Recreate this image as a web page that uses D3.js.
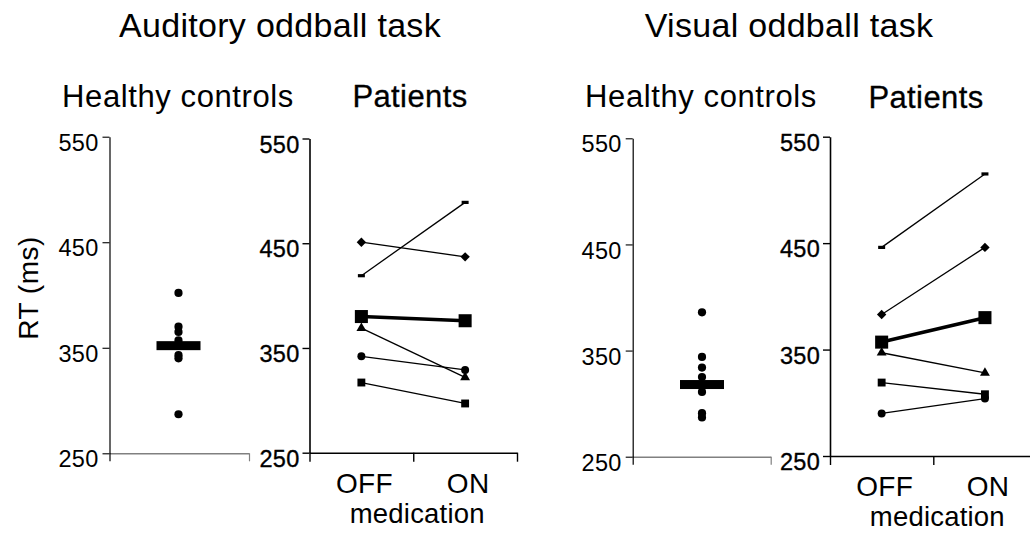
<!DOCTYPE html>
<html>
<head>
<meta charset="utf-8">
<script src="https://cdn.jsdelivr.net/npm/d3@7"></script>
<style>
  html, body { margin: 0; padding: 0; background: #fff; }
  svg { display: block; font-family: "Liberation Sans", Arial, sans-serif; }
</style>
</head>
<body>
<svg id="chart" width="1030" height="534"></svg>
<script>
// ---------------- data ----------------
const taskTitles = ["Auditory oddball task", "Visual oddball task"];
const groupTitles = ["Healthy controls", "Patients"];
const yTicks = [250, 350, 450, 550];
const conditions = ["OFF", "ON"];
const xAxisTitle = "medication";
const yAxisTitle = "RT (ms)";

const auditoryControls = [402, 370, 365, 357, 343, 340, 287];
const auditoryControlsMean = 352;
const visualControls = [386, 344, 334, 325, 311, 291, 287];
const visualControlsMean = 318;

const patientShapes = ["dash", "diamond", "triangle", "circle", "square"];
const auditoryPatients = [[419, 489], [451, 437], [369, 322], [342, 329], [317, 297]];
const auditoryPatientsMean = [380, 376];
const visualPatients = [[446, 515], [383, 446], [347, 328], [290, 304], [319, 308]];
const visualPatientsMean = [357, 380];

// ---------------- layout ----------------
const svg = d3.select("#chart");
const FONT_TICK = 23.5;

const panels = [
  { task: 0, ctrl: auditoryControls, ctrlMean: auditoryControlsMean,
    pats: auditoryPatients, patMean: auditoryPatientsMean,
    titleX: 280,
    hc: { axisX: 109.5, xEnd: 249, y0: 453.3, y1: 136.7, dotX: 178.5, labelX: 178 },
    pt: { axisX: 309.5, xEnd: 517, y0: 452.7, y1: 138.5, labelX: 410, labelY: 107, catY: 493, medY: 523 } },
  { task: 1, ctrl: visualControls, ctrlMean: visualControlsMean,
    pats: visualPatients, patMean: visualPatientsMean,
    titleX: 789,
    hc: { axisX: 632.7, xEnd: 770.7, y0: 456.7, y1: 138.3, dotX: 702, labelX: 701 },
    pt: { axisX: 830, xEnd: 1036.6, y0: 456, y1: 136.7, labelX: 926, labelY: 108, catY: 496, medY: 526 } }
];

function styleYAxis(g, bold) {
  g.select(".domain").attr("stroke", "#000").attr("stroke-width", bold ? 1.6 : 1.2);
  g.selectAll(".tick line").attr("stroke", "#000").attr("stroke-width", bold ? 1.4 : 1.1);
  g.selectAll(".tick text")
    .attr("font-size", FONT_TICK)
    .attr("font-family", "Liberation Sans, Arial, sans-serif")
    .attr("fill", "#000")
    .attr("letter-spacing", 0.3)
    .attr("dy", "0.58em")
    .attr("stroke", bold ? "#000" : "none")
    .attr("stroke-width", bold ? 0.35 : 0);
}

function symbolPath(shape) {
  switch (shape) {
    case "diamond": return d3.symbol().type(d3.symbolSquare).size(44)();
    case "triangle": return d3.symbol().type(d3.symbolTriangle).size(42)();
    case "circle": return d3.symbol().type(d3.symbolCircle).size(50)();
    case "square": return d3.symbol().type(d3.symbolSquare).size(62)();
    case "mean": return d3.symbol().type(d3.symbolSquare).size(170)();
    default: return "M-3.5,-1.6H3.5V1.6H-3.5Z";
  }
}

panels.forEach(p => {
  // Task title
  svg.append("text").attr("x", p.titleX).attr("y", 37)
    .attr("text-anchor", "middle").attr("font-size", 34).attr("letter-spacing", 0.3)
    .text(taskTitles[p.task]);

  // ---------- Healthy controls ----------
  const hc = p.hc;
  const yH = d3.scaleLinear().domain([250, 550]).range([hc.y0, hc.y1]);
  const xH = d3.scaleLinear().domain([0, 1]).range([hc.axisX, hc.xEnd]);

  svg.append("text").attr("x", hc.labelX).attr("y", 107)
    .attr("text-anchor", "middle").attr("font-size", 31).attr("letter-spacing", 0.6)
    .text(groupTitles[0]);

  const gxH = svg.append("g").attr("transform", `translate(0,${hc.y0})`)
    .call(d3.axisBottom(xH).tickValues([0, 1]).tickFormat("").tickSize(8).tickSizeOuter(0));
  gxH.select(".domain").attr("stroke", "#808080").attr("stroke-width", 1.4);
  gxH.selectAll(".tick line").attr("stroke", "#808080").attr("stroke-width", 1.2);
  gxH.selectAll(".tick").filter(d => d === 0).select("line").attr("stroke", "#000");

  const gyH = svg.append("g").attr("transform", `translate(${hc.axisX},0)`)
    .call(d3.axisLeft(yH).tickValues(yTicks).tickSize(7).tickSizeOuter(0).tickPadding(4));
  styleYAxis(gyH, false);

  svg.append("g").selectAll("circle").data(p.ctrl).join("circle")
    .attr("cx", hc.dotX).attr("cy", d => yH(d)).attr("r", 4.1).attr("fill", "#000");
  svg.append("rect")
    .attr("x", hc.dotX - 22).attr("width", 44)
    .attr("y", yH(p.ctrlMean) - 4.5).attr("height", 9).attr("fill", "#000");

  // ---------- Patients ----------
  const pt = p.pt;
  const yP = d3.scaleLinear().domain([250, 550]).range([pt.y0, pt.y1]);
  const xBand = d3.scaleBand().domain(conditions).range([pt.axisX, pt.xEnd]);
  const xLin = d3.scaleLinear().domain([0, conditions.length]).range([pt.axisX, pt.xEnd]);
  const cx = c => xBand(c) + xBand.bandwidth() / 2;

  svg.append("text").attr("x", pt.labelX).attr("y", pt.labelY)
    .attr("text-anchor", "middle").attr("font-size", 31).attr("letter-spacing", 0.4)
    .attr("stroke", "#000").attr("stroke-width", 0.3)
    .text(groupTitles[1]);

  const gxP = svg.append("g").attr("transform", `translate(0,${pt.y0})`)
    .call(d3.axisBottom(xLin).tickValues(d3.range(conditions.length + 1)).tickFormat("").tickSize(9).tickSizeOuter(0));
  gxP.select(".domain").attr("stroke", "#000").attr("stroke-width", 1.6);
  gxP.selectAll(".tick line").attr("stroke", "#000").attr("stroke-width", 1.4);

  const gxL = svg.append("g").attr("transform", `translate(3,${pt.catY})`)
    .call(d3.axisBottom(xBand).tickSize(0).tickPadding(0));
  gxL.select(".domain").remove();
  gxL.selectAll(".tick text").attr("font-size", 28).attr("dy", 0).attr("fill", "#000")
    .attr("font-family", "Liberation Sans, Arial, sans-serif").attr("letter-spacing", 0.3);

  svg.append("text").attr("x", (pt.axisX + pt.xEnd) / 2 + 4).attr("y", pt.medY)
    .attr("text-anchor", "middle").attr("font-size", 27.5).attr("letter-spacing", 0.2)
    .text(xAxisTitle);

  const gyP = svg.append("g").attr("transform", `translate(${pt.axisX},0)`)
    .call(d3.axisLeft(yP).tickValues(yTicks).tickSize(7).tickSizeOuter(0).tickPadding(3));
  styleYAxis(gyP, true);

  const line = d3.line().x((d, i) => cx(conditions[i])).y(d => yP(d));

  const series = p.pats.map((v, i) => ({ shape: patientShapes[i], values: v }));
  series.forEach(s => {
    svg.append("path").attr("d", line(s.values))
      .attr("fill", "none").attr("stroke", "#000").attr("stroke-width", 1.3);
  });
  svg.append("path").attr("d", line(p.patMean))
    .attr("fill", "none").attr("stroke", "#000").attr("stroke-width", 3.6);

  const all = series.concat([{ shape: "mean", values: p.patMean }]);
  all.forEach(s => {
    svg.append("g").selectAll("path").data(s.values).join("path")
      .attr("d", symbolPath(s.shape))
      .attr("transform", (d, i) => `translate(${cx(conditions[i])},${yP(d)})${s.shape === "diamond" ? " rotate(45)" : ""}`)
      .attr("fill", "#000");
  });
});

// Y axis title
svg.append("text")
  .attr("transform", "translate(38,288) rotate(-90)")
  .attr("text-anchor", "middle").attr("font-size", 28).attr("letter-spacing", 0.5)
  .text(yAxisTitle);
</script>
</body>
</html>
